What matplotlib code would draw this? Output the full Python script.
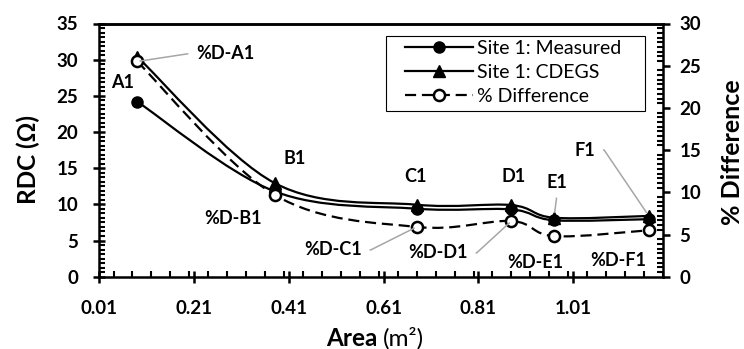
import numpy as np
import matplotlib
matplotlib.use("Agg")
import matplotlib.pyplot as plt
from matplotlib.path import Path
from matplotlib.patches import PathPatch, Rectangle
from matplotlib.lines import Line2D
from matplotlib.ticker import MultipleLocator, AutoMinorLocator

plt.rcParams['font.family'] = ['Lato', 'DejaVu Sans']

# data
area = [0.09, 0.38, 0.68, 0.88, 0.97, 1.17]
rdc_measured = [24.2, 11.8, 9.4, 9.3, 7.8, 7.95]
rdc_cdegs = [30.4, 12.95, 9.95, 9.9, 8.15, 8.4]
pct_diff = [25.5, 9.7, 5.9, 6.6, 4.8, 5.5]
point_names = ['A1', 'B1', 'C1', 'D1', 'E1', 'F1']
x_ticks = [0.01, 0.21, 0.41, 0.61, 0.81, 1.01]


def smooth_path(x, y):
    # excel style smoothed line (cubic bezier through every point)
    pts = np.column_stack([x, y]).astype(float)
    ext = np.vstack([pts[0], pts, pts[-1]])
    verts = [pts[0]]
    codes = [Path.MOVETO]
    for i in range(len(pts) - 1):
        p0, p1, p2, p3 = ext[i], ext[i + 1], ext[i + 2], ext[i + 3]
        verts += [p1 + (p2 - p0) / 6, p2 - (p3 - p1) / 6, p2]
        codes += [Path.CURVE4] * 3
    return Path(verts, codes)


W, H = 744, 349
fig = plt.figure(figsize=(W / 100, H / 100), dpi=100)
ax = fig.add_axes([99.3 / W, 1 - 276.7 / H, (663 - 99.3) / W, (276.7 - 23.5) / H])
ax2 = ax.twinx()

lw = 1.6
ms = 8
dash = (0, (5, 2.6))
ax.add_patch(PathPatch(smooth_path(area, rdc_measured), fill=False, lw=lw, ec='black'))
ax.add_patch(PathPatch(smooth_path(area, rdc_cdegs), fill=False, lw=lw, ec='black'))
ax.plot(area, rdc_measured, 'o', color='black', ms=ms, ls='none')
ax.plot(area, rdc_cdegs, '^', color='black', ms=ms, ls='none')
ax2.add_patch(PathPatch(smooth_path(area, pct_diff), fill=False, lw=lw, ec='black', ls=dash))
ax2.plot(area, pct_diff, 'o', mfc='white', mec='black', mew=1.8, ms=ms, ls='none')

ax.set_xlim(0.01, 1.20)
ax.set_ylim(0, 35)
ax2.set_ylim(0, 30)
ax.set_xticks(x_ticks)
ax.set_xticklabels(['%.2f' % v for v in x_ticks])
ax.xaxis.set_minor_locator(MultipleLocator(0.04))
ax.yaxis.set_major_locator(MultipleLocator(5))
ax.yaxis.set_minor_locator(AutoMinorLocator(8))
ax2.yaxis.set_major_locator(MultipleLocator(5))
ax2.yaxis.set_minor_locator(AutoMinorLocator(9))

for a in (ax, ax2):
    for s in a.spines.values():
        s.set_linewidth(1.8)
ax.spines['right'].set_visible(False)
ax2.spines['left'].set_visible(False)
ax2.spines['bottom'].set_visible(False)

tick_fs = 13.5
ax.tick_params(axis='x', which='major', direction='inout', length=8, width=1.8,
               labelsize=tick_fs, pad=13)
ax.tick_params(axis='y', which='major', direction='inout', length=8, width=1.8,
               labelsize=tick_fs, pad=11)
ax.tick_params(axis='both', which='minor', direction='in', length=4, width=1.5)
ax2.tick_params(axis='y', which='major', direction='out', length=5, width=1.8,
                labelsize=tick_fs, pad=7)
ax2.tick_params(axis='y', which='minor', direction='in', length=4, width=1.5)
for lab in ax.get_xticklabels() + ax.get_yticklabels() + ax2.get_yticklabels():
    lab.set_fontweight('bold')

# axis titles
title_fs = 17.5
fig.text(28 / W, 1 - 160 / H, 'RDC (Ω)', rotation=90, ha='center', va='center',
         fontsize=title_fs, fontweight='bold')
fig.text(733 / W, 1 - 152 / H, '% Difference', rotation=90, ha='center', va='center',
         fontsize=title_fs + 0.5, fontweight='bold')
fig.text(378 / W, 1 - 338 / H, 'Area', ha='right', va='center', fontsize=title_fs,
         fontweight='bold')
fig.text(383 / W, 1 - 338 / H, '(m²)', ha='left', va='center', fontsize=title_fs)

# point labels
bold = dict(fontsize=13, fontweight='bold', ha='center', va='center')
grey = '#a6a6a6'
name_pos = [(0.06, 26.8), (0.423, 16.4), (0.677, 13.8), (0.884, 13.8), (0.977, 13.0),
            (1.035, 17.5)]
for (tx, ty), name in zip(name_pos, point_names):
    if name == 'E1':
        ax.annotate(name, xy=(area[4], rdc_cdegs[4]), xytext=(tx, ty), **bold,
                    arrowprops=dict(arrowstyle='-', color=grey, lw=1.1,
                                    relpos=(0.5, 0), shrinkA=3, shrinkB=4))
    elif name == 'F1':
        ax.annotate(name, xy=(area[5], rdc_cdegs[5]), xytext=(tx, ty), **bold,
                    arrowprops=dict(arrowstyle='-', color=grey, lw=1.1,
                                    relpos=(1, 0.5), shrinkA=4, shrinkB=3,
                                    connectionstyle='arc,angleA=0,armA=9,angleB=0,armB=0,rad=0'))
    else:
        ax.text(tx, ty, name, **bold)

diff_pos = [(0.276, 30.8), (0.292, 8.1), (0.503, 3.7), (0.725, 3.3), (0.931, 1.9),
            (1.105, 2.3)]
for i, ((tx, ty), name) in enumerate(zip(diff_pos, point_names)):
    label = '%D-' + name
    if name == 'A1':
        side, ang = (0, 0.5), 180
    elif name in ('C1', 'D1'):
        side, ang = (1, 0.5), 0
    else:
        side = None
    if side is None:
        ax.text(tx, ty, label, **bold)
    else:
        ax2.annotate(label, xy=(area[i], pct_diff[i]), xytext=(tx, ty),
                     textcoords=ax.transData, **bold,
                     arrowprops=dict(arrowstyle='-', color=grey, lw=1.1, relpos=side,
                                     shrinkA=4, shrinkB=2,
                                     connectionstyle='arc,angleA=%d,armA=9,angleB=0,armB=0,rad=0' % ang))

# legend: frame drawn separately so the padding matches
handles = [
    Line2D([], [], color='black', lw=lw, marker='o', ms=ms),
    Line2D([], [], color='black', lw=lw, marker='^', ms=ms),
    Line2D([], [], color='black', lw=lw, ls=dash, marker='o', mfc='white',
           mec='black', mew=1.8, ms=ms),
]
fig.legend(handles, ['Site 1: Measured', 'Site 1: CDEGS', '% Difference'],
           loc='upper left', bbox_to_anchor=(405 / W, 1 - 39.5 / H),
           fontsize=14, frameon=False, handlelength=3.5, handletextpad=0.2,
           labelspacing=0.38, borderpad=0, borderaxespad=0)
fig.patches.append(Rectangle((385.7 / W, 1 - 110.7 / H), (645 - 385.7) / W, 75 / H,
                             transform=fig.transFigure, fill=False, ec='black', lw=0.8))

fig.savefig('out.png', dpi=100)
